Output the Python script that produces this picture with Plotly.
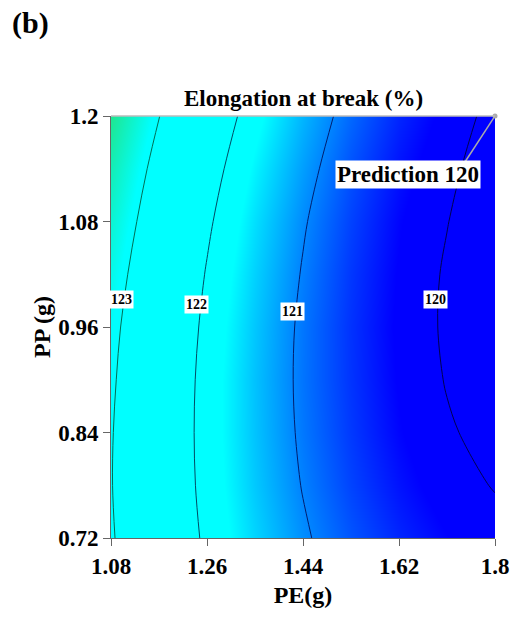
import plotly.graph_objects as go

# PE (g) grid, PP (g) grid, response Elongation at break (%)
pe = [1.08, 1.17, 1.26, 1.35, 1.44, 1.53, 1.62, 1.71, 1.80]
pp = [0.72, 0.78, 0.84, 0.90, 0.96, 1.02, 1.08, 1.14, 1.20]
# rows = pp values, columns = pe values
elong = [
    [123.05, 122.45, 121.92, 121.46, 121.06, 120.73, 120.46, 120.26, 120.12],
    [123.02, 122.41, 121.87, 121.39, 120.98, 120.63, 120.35, 120.13, 119.98],
    [123.03, 122.41, 121.85, 121.36, 120.93, 120.57, 120.27, 120.04, 119.88],
    [123.07, 122.43, 121.86, 121.35, 120.91, 120.54, 120.23, 119.98, 119.80],
    [123.13, 122.48, 121.90, 121.38, 120.92, 120.53, 120.21, 119.95, 119.76],
    [123.23, 122.57, 121.97, 121.44, 120.97, 120.56, 120.23, 119.96, 119.75],
    [123.36, 122.69, 122.07, 121.52, 121.04, 120.62, 120.27, 120.01, 119.76],
    [123.52, 122.83, 122.20, 121.64, 121.15, 120.71, 120.35, 120.08, 119.81],
    [123.72, 123.01, 122.37, 121.79, 121.28, 120.84, 120.46, 120.18, 119.89],
]
levels = [120, 121, 122, 123]
label_pe = [1.689, 1.421, 1.241, 1.099]
label_pp = [0.991, 0.978, 0.986, 0.991]
x_ticks = [1.08, 1.26, 1.44, 1.62, 1.8]
x_ticktext = ["1.08", "1.26", "1.44", "1.62", "1.8"]
y_ticks = [0.72, 0.84, 0.96, 1.08, 1.2]
y_ticktext = ["0.72", "0.84", "0.96", "1.08", "1.2"]
pred_pe, pred_pp, pred_val = 1.8, 1.2, 120

zmin, zmax = 119.74, 123.72
def pos(z):
    return (z - zmin) / (zmax - zmin)

fill_scale = [
    [0.0, "rgb(0,0,255)"],
    [pos(120.25), "rgb(0,0,255)"],
    [pos(121.7), "rgb(0,255,255)"],
    [pos(123.1), "rgb(0,255,255)"],
    [1.0, "rgb(30,230,145)"],
]

SERIF = "Liberation Serif"
fig = go.Figure()
fig.add_trace(go.Contour(
    x=pe, y=pp, z=elong, zmin=zmin, zmax=zmax, zauto=False,
    colorscale=fill_scale, showscale=False,
    contours=dict(coloring="heatmap", showlines=False, start=120, end=123, size=1),
    line=dict(width=0), hoverinfo="skip",
))
fig.add_trace(go.Contour(
    x=pe, y=pp, z=elong, zmin=120, zmax=123, zauto=False,
    colorscale=[[0, "rgb(0,0,80)"], [0.333, "rgb(0,30,110)"],
                [0.667, "rgb(0,75,100)"], [1, "rgb(0,110,85)"]],
    showscale=False,
    contours=dict(coloring="lines", start=120, end=123, size=1),
    line=dict(width=1), hoverinfo="skip",
))
fig.add_trace(go.Scatter(
    x=[pred_pe], y=[pred_pp], mode="markers",
    marker=dict(color="#aaaaaa", size=5), cliponaxis=False, hoverinfo="skip",
))

for lv, lx, ly in zip(levels, label_pe, label_pp):
    fig.add_annotation(x=lx, y=ly, text=str(lv), showarrow=False,
                       bgcolor="white", borderpad=1,
                       font=dict(family=SERIF, size=14, color="black", weight="bold"))

fig.add_annotation(x=1.637, y=1.133, text=f"Prediction {pred_val}", showarrow=False,
                   bgcolor="white", borderpad=1,
                   font=dict(family=SERIF, size=23, color="black", weight="bold"))
fig.add_shape(type="line", x0=1.744, y0=1.148, x1=pred_pe, y1=pred_pp,
              line=dict(color="#aaaaaa", width=1.5))
fig.add_shape(type="line", xref="paper", yref="paper", x0=0, x1=1, y0=1, y1=1,
              line=dict(color="#bbbbbb", width=1.5))

fig.add_annotation(xref="paper", yref="paper", x=0.5, y=1.0, yanchor="bottom", yshift=3,
                   text="Elongation at break (%)", showarrow=False,
                   font=dict(family=SERIF, size=23, color="black", weight="bold"))
fig.add_annotation(xref="paper", yref="paper", x=-0.262, y=1.265,
                   xanchor="left", yanchor="top", text="(b)", showarrow=False,
                   font=dict(family=SERIF, size=30, color="black", weight="bold"))

axis_font = dict(family=SERIF, size=23, color="black", weight="bold")
title_font = dict(family=SERIF, size=24, color="black", weight="bold")
fig.update_layout(
    width=520, height=619,
    margin=dict(l=111, r=25, t=116, b=81),
    paper_bgcolor="white", plot_bgcolor="white",
    showlegend=False,
    xaxis=dict(range=[1.08, 1.8], tickvals=x_ticks, ticktext=x_ticktext,
               ticks="outside", ticklen=7, tickcolor="#666666",
               showline=True, linecolor="#666666", linewidth=1,
               showgrid=False, zeroline=False, tickfont=axis_font, automargin=False,
               title=dict(text="PE(g)", font=title_font, standoff=8)),
    yaxis=dict(range=[0.72, 1.2], tickvals=y_ticks, ticktext=y_ticktext,
               ticks="outside", ticklen=7, tickcolor="#666666",
               showline=True, linecolor="#666666", linewidth=1,
               showgrid=False, zeroline=False, tickfont=axis_font, automargin=False,
               title=dict(text="PP (g)", font=title_font, standoff=0)),
)
fig.write_html("out.html")
